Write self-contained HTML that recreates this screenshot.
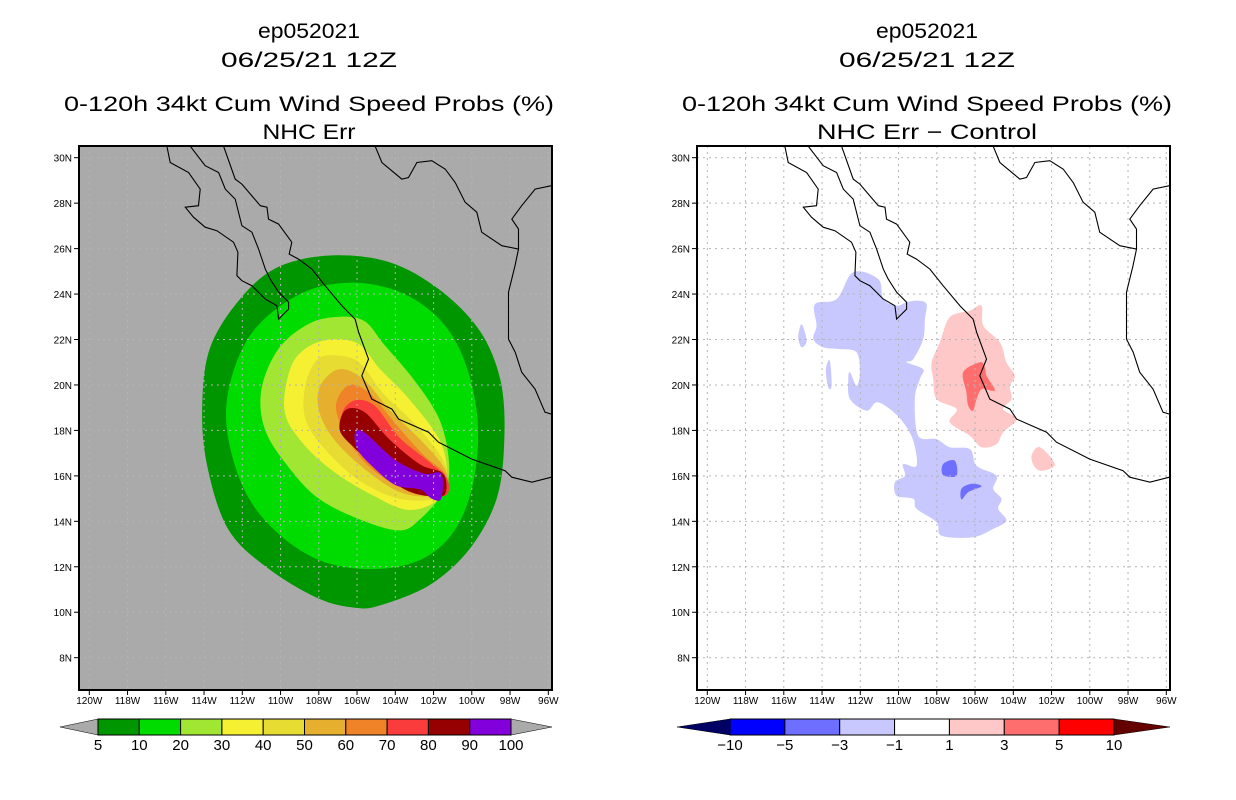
<!DOCTYPE html>
<html><head><meta charset="utf-8"><style>
body{margin:0;background:#fff;}
svg{display:block;font-family:"Liberation Sans",sans-serif;}
</style></head><body>
<svg id="chart" width="1236" height="800" viewBox="0 0 1236 800" xmlns="http://www.w3.org/2000/svg">
<g id="root"></g>
</svg>
<script>
// ---- data ----
const lonTicks = [-120,-118,-116,-114,-112,-110,-108,-106,-104,-102,-100,-98,-96];
const lonTickLabels = ["120W","118W","116W","114W","112W","110W","108W","106W","104W","102W","100W","98W","96W"];
const latTicks = [8,10,12,14,16,18,20,22,24,26,28,30];
const latTickLabels = ["8N","10N","12N","14N","16N","18N","20N","22N","24N","26N","28N","30N"];
const probLevels = [5,10,20,30,40,50,60,70,80,90,100];
const probColors = ["#009600","#00dc00","#a0e632","#f5f032","#e6dc32","#e6af2d","#f08228","#fa3c3c","#960000","#8200dc"];
const diffLevels = ["-10","-5","-3","-1","1","3","5","10"];
const diffColors = ["#0000ff","#6e6eff","#c8c8ff","#ffffff","#ffc8c8","#ff6e6e","#ff0000"];
const diffTipColors = ["#000064","#640000"];
// probability contour polygons (lon, lat) for levels 5..90
const prob5 = [[-107.3,25.7],[-104.3,25.4],[-101.7,24.2],[-99.6,22.4],[-98.5,20.2],[-98.3,17.6],[-98.7,15.0],[-100.1,12.8],[-102.2,11.2],[-104.8,10.3],[-106.1,10.2],[-108.0,10.6],[-110.6,11.9],[-112.7,13.6],[-113.8,16.3],[-114.1,18.9],[-113.7,21.6],[-112.1,23.8],[-110.1,25.2]];
const prob10 = [[-106.4,24.5],[-103.8,24.1],[-101.7,22.9],[-100.4,21.1],[-99.7,18.5],[-99.9,15.8],[-100.9,13.6],[-102.7,12.3],[-105.3,11.9],[-108.0,12.3],[-110.3,13.6],[-111.9,15.4],[-112.8,18.0],[-112.6,20.2],[-111.4,22.4],[-109.0,24.0]];
const prob20 = [[-106.9,23.0],[-105.6,22.8],[-104.6,21.8],[-103.0,20.2],[-101.7,18.5],[-101.2,16.7],[-101.4,15.4],[-102.7,14.1],[-103.8,13.6],[-105.9,14.1],[-108.0,15.0],[-109.5,16.3],[-110.8,18.0],[-111.0,19.8],[-110.1,21.6],[-108.5,22.7]];
const prob30 = [[-107.4,22.0],[-105.9,21.8],[-104.8,20.7],[-103.3,19.4],[-101.7,17.6],[-101.3,16.1],[-101.7,15.0],[-103.3,14.5],[-105.3,15.2],[-107.4,16.3],[-109.0,17.6],[-109.8,18.9],[-109.5,20.7],[-108.7,21.6]];
const prob40 = [[-107.2,21.3],[-105.9,21.0],[-104.6,19.6],[-103.0,18.3],[-101.5,16.7],[-101.3,15.6],[-101.9,15.0],[-103.8,15.0],[-105.9,15.8],[-107.7,17.2],[-108.7,18.5],[-108.7,20.0],[-108.1,21.1]];
const prob50 = [[-106.9,20.7],[-105.6,20.2],[-104.3,18.9],[-102.7,17.6],[-101.4,16.3],[-101.3,15.4],[-102.2,15.1],[-103.8,15.3],[-105.6,16.3],[-107.2,17.6],[-108.0,18.9],[-107.9,20.0]];
const prob60 = [[-106.4,20.0],[-105.3,19.6],[-104.0,18.3],[-102.5,16.9],[-101.4,16.1],[-101.4,15.3],[-102.5,15.2],[-104.0,15.6],[-105.6,16.6],[-106.6,17.8],[-107.1,19.1]];
const prob70 = [[-106.2,19.3],[-105.1,19.1],[-103.8,17.7],[-102.2,16.6],[-101.3,15.9],[-101.35,15.15],[-102.7,15.2],[-104.3,15.8],[-105.8,17.0],[-106.8,18.5]];
const prob80 = [[-106.6,18.9],[-105.6,18.8],[-104.3,17.6],[-102.7,16.5],[-101.5,16.1],[-101.4,15.2],[-102.2,15.1],[-103.5,15.4],[-104.9,16.3],[-106.1,17.2],[-106.9,18.0]];
const prob90 = [[-106.1,17.9],[-105.6,17.9],[-104.0,16.7],[-102.5,16.1],[-101.6,16.1],[-101.6,15.0],[-102.1,15.0],[-102.7,15.4],[-104.0,15.6],[-105.3,16.5],[-106.0,17.2]];
// difference field polygons
const diffLightBlue = [[-112.37,24.96],[-111.06,24.66],[-110.80,23.78],[-110.10,23.49],[-109.58,23.64],[-108.97,23.71],[-108.54,23.56],[-108.62,22.90],[-108.71,22.02],[-109.23,21.14],[-109.58,21.00],[-108.71,20.70],[-108.89,20.26],[-109.15,19.38],[-108.97,17.77],[-108.01,17.62],[-107.32,17.26],[-106.27,17.18],[-105.92,16.45],[-104.88,16.01],[-105.05,15.43],[-104.62,14.99],[-104.79,14.55],[-104.36,14.03],[-105.05,13.67],[-106.10,13.30],[-107.75,13.37],[-108.01,13.96],[-109.06,14.55],[-109.23,14.99],[-110.10,15.13],[-110.19,15.72],[-109.67,16.01],[-109.76,16.52],[-109.06,16.45],[-109.23,17.55],[-109.76,18.36],[-110.45,18.94],[-111.15,19.24],[-111.67,18.87],[-112.54,19.38],[-112.63,20.26],[-112.54,20.56],[-112.20,19.97],[-112.02,20.56],[-112.20,21.44],[-113.07,21.58],[-113.94,21.66],[-114.46,22.02],[-114.29,22.61],[-114.37,23.56],[-113.24,23.78]];
const diffLightBlue2 = [[-115.07,22.68],[-114.81,21.95],[-115.07,21.66],[-115.24,22.10]];
const diffLightBlue3 = [[-113.59,21.07],[-113.50,19.97],[-113.68,19.90],[-113.80,20.70]];
const diffBlue1 = [[-107.67,16.52],[-107.06,16.67],[-106.97,16.01],[-107.67,16.04]];
const diffBlue2 = [[-106.71,15.43],[-106.18,15.65],[-105.66,15.54],[-106.36,15.28],[-106.71,14.96]];
const diffPink = [[-107.32,22.98],[-106.27,23.27],[-105.66,23.49],[-105.57,22.61],[-104.70,21.88],[-104.36,21.00],[-103.92,20.41],[-104.18,19.97],[-104.09,19.38],[-104.53,18.94],[-103.83,18.50],[-104.53,17.92],[-104.88,17.40],[-105.66,17.26],[-106.27,17.77],[-107.32,18.36],[-106.97,18.94],[-108.01,19.38],[-108.19,20.26],[-108.27,21.00],[-107.84,21.88]];
const diffPink2 = [[-103.05,16.89],[-102.61,17.26],[-101.83,16.52],[-102.44,16.23],[-102.87,16.38]];
const diffRed = [[-106.62,20.56],[-105.75,21.00],[-105.49,20.78],[-105.40,20.41],[-104.97,19.82],[-105.14,19.75],[-105.66,19.82],[-105.92,19.38],[-106.10,18.87],[-106.36,19.09],[-106.45,19.68]];
// coastlines
const coastMain = [[-112.98,30.5],[-112.37,29.06],[-112.02,28.84],[-111.06,27.89],[-110.71,27.82],[-110.63,27.30],[-110.10,27.08],[-109.41,26.28],[-109.55,25.76],[-109.06,25.54],[-108.36,25.10],[-107.67,24.37],[-106.79,23.49],[-106.10,22.90],[-105.92,22.32],[-105.66,21.73],[-105.40,21.14],[-105.75,20.41],[-105.23,19.38],[-104.18,18.94],[-103.83,18.50],[-102.26,17.92],[-101.74,17.48],[-100.00,16.74],[-98.26,16.23],[-97.91,15.94],[-96.86,15.72],[-95.84,15.94]];
const coastBaja = [[-115.94,30.5],[-115.77,29.79],[-114.81,29.35],[-114.20,28.62],[-114.29,27.89],[-114.98,27.82],[-114.55,27.38],[-113.94,26.94],[-113.33,26.79],[-112.46,26.28],[-112.23,25.84],[-112.28,24.81],[-112.02,24.59],[-111.50,24.37],[-110.80,23.78],[-110.19,23.49],[-110.10,22.90],[-109.58,23.34],[-109.58,23.64],[-110.10,24.08],[-110.54,24.66],[-110.80,25.10],[-111.15,25.98],[-111.50,26.72],[-112.02,27.01],[-112.37,28.18],[-112.89,28.62],[-113.24,29.35],[-113.94,29.65],[-114.72,30.5]];
const coastGulf = [[-105.05,30.5],[-104.70,29.79],[-103.66,29.06],[-103.31,29.13],[-102.87,29.79],[-102.09,29.87],[-101.39,29.50],[-100.87,28.91],[-100.35,28.04],[-99.74,27.60],[-99.48,26.72],[-98.43,26.13],[-97.56,25.98],[-97.74,25.25],[-98.08,24.08],[-98.08,22.02],[-97.73,21.44],[-97.39,20.56],[-96.69,19.82],[-96.17,18.80],[-95.84,18.72]];
const coastTexas = [[-97.56,25.98],[-97.56,26.86],[-97.91,27.30],[-97.39,27.89],[-96.69,28.62],[-95.84,28.77]];

// ---- layout ----
const NS="http://www.w3.org/2000/svg";
const root=document.getElementById('root');
function el(tag,attrs,parent,text){const e=document.createElementNS(NS,tag);for(const k in attrs)e.setAttribute(k,attrs[k]);if(text!==undefined)e.textContent=text;(parent||root).appendChild(e);return e;}
const FRAME={x0:79,x1:552,y0:146,y1:690};
function xs(off){return lon=>off+89.3+(lon+120)*19.125;}
function ys(lat){return 157.7+(30-lat)*22.727;}
function smoothPath(pts,X){
  const p=pts.map(q=>[X(q[0]),ys(q[1])]);const n=p.length;let d=`M${p[0][0].toFixed(1)},${p[0][1].toFixed(1)}`;
  for(let i=0;i<n;i++){const p0=p[(i-1+n)%n],p1=p[i],p2=p[(i+1)%n],p3=p[(i+2)%n];
    const c1=[p1[0]+(p2[0]-p0[0])/6,p1[1]+(p2[1]-p0[1])/6],c2=[p2[0]-(p3[0]-p1[0])/6,p2[1]-(p3[1]-p1[1])/6];
    d+=`C${c1[0].toFixed(1)},${c1[1].toFixed(1)} ${c2[0].toFixed(1)},${c2[1].toFixed(1)} ${p2[0].toFixed(1)},${p2[1].toFixed(1)}`;}
  return d+'Z';}
function line(pts,X){return pts.map((q,i)=>(i?'L':'M')+X(q[0]).toFixed(1)+','+ys(q[1]).toFixed(1)).join('');}

function panel(off,bg,titleLast,titleLastW,key){
  const X=xs(off);const cx=off+309;
  const g=el('g',{});
  
  
  const titles=[["ep052021",38,102],["06/25/21 12Z",67,176],["0-120h 34kt Cum Wind Speed Probs (%)",111,490],[titleLast,139,titleLastW]];
  titles.forEach((t,i)=>{const e=el('text',{x:cx,y:t[1],'text-anchor':'middle','font-size':21,textLength:t[2],lengthAdjust:'spacingAndGlyphs',fill:'#000'},g,t[0]);
    
    });
  const clipId='clip'+key;
  const cp=el('clipPath',{id:clipId},g);el('rect',{x:FRAME.x0+off,y:FRAME.y0,width:FRAME.x1-FRAME.x0,height:FRAME.y1-FRAME.y0},cp);
  const bgR=el('rect',{x:FRAME.x0+off,y:FRAME.y0,width:FRAME.x1-FRAME.x0,height:FRAME.y1-FRAME.y0,fill:bg},g);
  
  
  const m=el('g',{'clip-path':`url(#${clipId})`},g);
  return {X,g,m,off};
}
function fill(P,pts,color,name){const e=el('path',{d:smoothPath(pts,P.X),fill:color},P.m);
  
  }
function decorate(P){
  const X=P.X,m=P.m,g=P.g,off=P.off;
  lonTicks.forEach(l=>{const gl=el('line',{x1:X(l),x2:X(l),y1:FRAME.y0,y2:FRAME.y1,stroke:'#b4b4b4','stroke-width':1,'stroke-dasharray':'2,4'},m);
    
    });
  latTicks.forEach(l=>{const gl=el('line',{x1:FRAME.x0+off,x2:FRAME.x1+off,y1:ys(l),y2:ys(l),stroke:'#b4b4b4','stroke-width':1,'stroke-dasharray':'2,4'},m);
    
    });
  [coastMain,coastBaja,coastGulf,coastTexas].forEach(c=>{const e=el('path',{d:line(c,X),fill:'none',stroke:'#000','stroke-width':1.1},m);
    
    });
  const fr=el('rect',{x:FRAME.x0+off,y:FRAME.y0,width:FRAME.x1-FRAME.x0,height:FRAME.y1-FRAME.y0,fill:'none',stroke:'#000','stroke-width':2},g);
  
  
  lonTicks.forEach((l,i)=>{el('line',{x1:X(l),x2:X(l),y1:FRAME.y1,y2:FRAME.y1+5,stroke:'#000'},g);
    const t=el('text',{x:X(l),y:704,'text-anchor':'middle','font-size':10,fill:'#000'},g,lonTickLabels[i]);
    
    });
  latTicks.forEach((l,i)=>{el('line',{x1:FRAME.x0+off-5,x2:FRAME.x0+off,y1:ys(l),y2:ys(l),stroke:'#000'},g);
    const t=el('text',{x:FRAME.x0+off-7,y:ys(l)+4,'text-anchor':'end','font-size':10,fill:'#000'},g,latTickLabels[i]);
    
    });
}
function colorbar(P,colors,labels,x0,x1,tipL,tipR,tipColors){
  const g=el('g',{},P.g);
  
  
  const y0=719,y1=735,ym=727,n=colors.length,w=(x1-x0)/n;
  el('polygon',{points:`${tipL},${ym} ${x0},${y0} ${x0},${y1}`,fill:tipColors[0],stroke:'#000','stroke-width':0.5},g);
  el('polygon',{points:`${tipR},${ym} ${x1},${y0} ${x1},${y1}`,fill:tipColors[1],stroke:'#000','stroke-width':0.5},g);
  colors.forEach((c,i)=>{const r=el('rect',{x:x0+i*w,y:y0,width:w,height:y1-y0,fill:c,stroke:'#000','stroke-width':1},g);
    
    });
  labels.forEach((lab,i)=>{const t=el('text',{x:x0+i*w,y:750,'text-anchor':'middle','font-size':15,fill:'#000'},g,lab.replace('-','\u2212'));
    
    });
}

// left panel
const L=panel(0,'#aaaaaa','NHC Err',93,'left');
[prob5,prob10,prob20,prob30,prob40,prob50,prob60,prob70,prob80,prob90].forEach((p,i)=>fill(L,p,probColors[i],'prob-contour-'+probLevels[i]));
decorate(L);
colorbar(L,probColors,probLevels.map(String),98,511,60,552,['#aaaaaa','#aaaaaa']);

// right panel
const R=panel(618,'#ffffff','NHC Err \u2212 Control',220,'right');
fill(R,diffLightBlue,diffColors[2],'diff-area-minus1-minus3');
fill(R,diffLightBlue2,diffColors[2],'diff-area-minus1-minus3');
fill(R,diffLightBlue3,diffColors[2],'diff-area-minus1-minus3');
fill(R,diffBlue1,diffColors[1],'diff-area-minus3-minus5');
fill(R,diffBlue2,diffColors[1],'diff-area-minus3-minus5');
fill(R,diffPink,diffColors[4],'diff-area-1-3');
fill(R,diffPink2,diffColors[4],'diff-area-1-3');
fill(R,diffRed,diffColors[5],'diff-area-3-5');
decorate(R);
colorbar(R,diffColors,diffLevels,730,1114,677,1170,diffTipColors);
</script>
</body></html>
